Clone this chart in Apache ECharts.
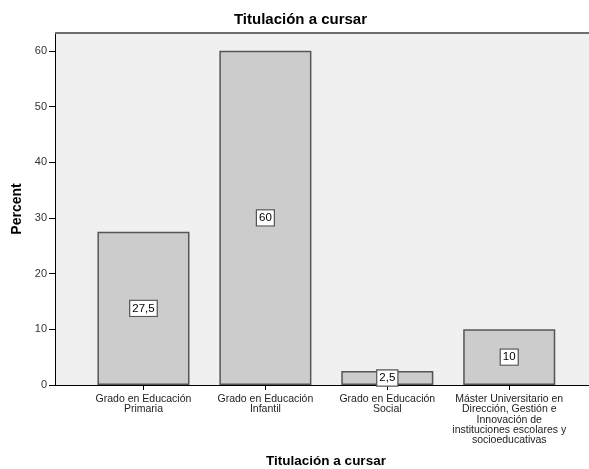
<!DOCTYPE html>
<html>
<head>
<meta charset="utf-8">
<script src="https://cdn.jsdelivr.net/npm/echarts@6/dist/echarts.min.js"></script>
<style>html,body{margin:0;padding:0;background:#fff}#c{width:589px;height:469px}</style>
</head>
<body>
<div id="c"></div>
<script>
var categories = [
  "Grado en Educación\nPrimaria",
  "Grado en Educación\nInfantil",
  "Grado en Educación\nSocial",
  "Máster Universitario en\nDirección, Gestión e\nInnovación de\ninstituciones escolares y\nsocioeducativas"
];
var percentValues = [27.5, 60, 2.5, 10];
var yTicks = [0, 10, 20, 30, 40, 50, 60];

var chart = echarts.init(document.getElementById('c'));
var font = 'Liberation Sans, Arial, sans-serif';
var yMax = 63.2;
chart.setOption({
  animation: false,
  textStyle: {fontFamily: font},
  grid: [
    {left: 55, right: -2, top: 33, bottom: 84, show: true, backgroundColor: '#f0f0f0', borderWidth: 0},
    {left: 82.5, right: 18.8, top: 33, bottom: 84}
  ],
  graphic: [
    {type: 'line', shape: {x1: 55, y1: 33, x2: 589, y2: 33}, style: {stroke: '#6e6e6e', lineWidth: 2}, z: 10},
    {type: 'text', x: 300.5, y: 12, style: {text: 'Titulación a cursar', font: 'bold 15px ' + font, fill: '#000', textAlign: 'center', textVerticalAlign: 'top'}},
    {type: 'text', x: 326, y: 454, style: {text: 'Titulación a cursar', font: 'bold 13.5px ' + font, fill: '#000', textAlign: 'center', textVerticalAlign: 'top'}}
  ],
  xAxis: [
    {gridIndex: 0, type: 'value', min: 0, max: 1, show: true,
     axisLine: {show: true, lineStyle: {color: '#000', width: 1}}, axisTick: {show: false}, axisLabel: {show: false}, splitLine: {show: false}},
    {gridIndex: 1, type: 'category', data: categories,
     axisLine: {show: false}, axisTick: {show: true, alignWithLabel: true, length: 5, lineStyle: {color: '#000'}},
     axisLabel: {fontSize: 10.5, lineHeight: 10.3, color: '#222', margin: 9, interval: 0, fontFamily: font},
     splitLine: {show: false}}
  ],
  yAxis: [
    {gridIndex: 0, type: 'value', min: 0, max: yMax, interval: 10,
     name: 'Percent', nameLocation: 'middle', nameGap: 27, nameRotate: 90,
     nameTextStyle: {fontSize: 14, fontWeight: 'bold', color: '#000', fontFamily: font},
     axisLine: {show: true, lineStyle: {color: '#000'}},
     axisTick: {show: true, length: 6, lineStyle: {color: '#000'}},
     axisLabel: {fontSize: 11, color: '#333', margin: 8, showMaxLabel: false, fontFamily: font,
       formatter: function (v) { return yTicks.indexOf(v) >= 0 ? String(v) : ''; }},
     splitLine: {show: false}},
    {gridIndex: 1, type: 'value', min: 0, max: yMax, show: false}
  ],
  series: [{
    type: 'bar', xAxisIndex: 1, yAxisIndex: 1, data: percentValues, barWidth: '75.5%',
    itemStyle: {color: '#cccccc', borderColor: '#555555', borderWidth: 1.5},
    label: {
      show: true, position: 'inside', fontSize: 11.5, color: '#000', fontFamily: font,
      backgroundColor: '#ffffff', borderColor: '#555555', borderWidth: 1.2, padding: [2, 2, 1, 2],
      formatter: function (p) { return String(p.value).replace('.', ','); }
    }
  }]
});
</script>
</body>
</html>
